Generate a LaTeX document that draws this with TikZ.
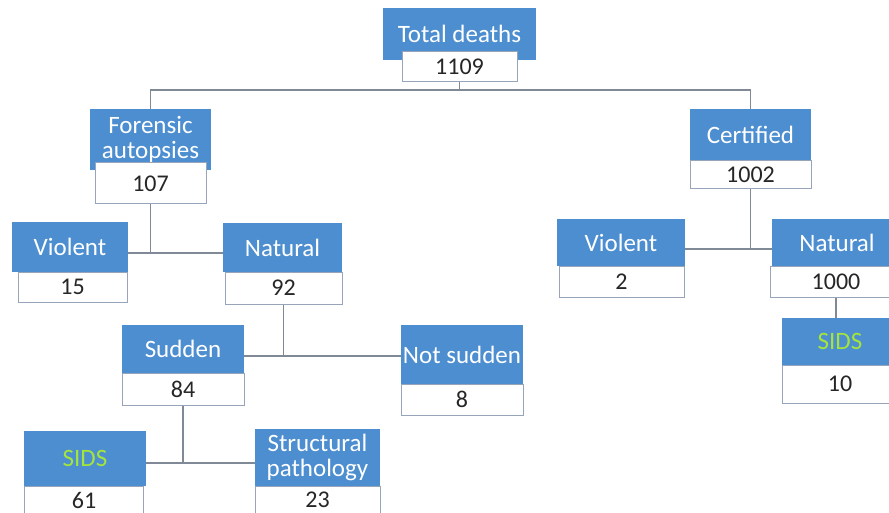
\documentclass[tikz,border=0pt]{standalone}
\usepackage{fontspec}
\setmainfont{Carlito}

\definecolor{headblue}{RGB}{76,142,208}
\definecolor{valline}{RGB}{150,165,185}
\definecolor{linkgray}{RGB}{128,138,150}
\definecolor{sidsgreen}{RGB}{165,228,60}
\definecolor{numgray}{RGB}{38,38,38}

\begin{document}
\begin{tikzpicture}
	[x=1pt,y=-1pt,
	 head/.style={fill=headblue,text=white,inner sep=0pt,align=center,
	  font=\fontsize{25}{25}\selectfont},
	 val/.style={fill=white,draw=valline,line width=1pt,text=numgray,inner sep=0pt,
	  font=\fontsize{24}{24}\selectfont},
	 conn/.style={draw=linkgray,line width=1.2pt}]

	\useasboundingbox (0,0) rectangle (889,513);
	\clip (0,0) rectangle (889,513);

	% top
	\node[head,minimum width=153,minimum height=52] (tot) at (459.5,34) {Total deaths};
	\node[val,minimum width=115,minimum height=30] (totn) at (459.5,67) {1109};

	% left branch
	\node[head,minimum width=121,minimum height=61] (fa) at (150.5,139.5) {Forensic\\autopsies};
	\node[val,minimum width=111,minimum height=41] (fan) at (150.5,183.5) {107};

	\node[head,minimum width=116,minimum height=50] (violL) at (70,247) {Violent};
	\node[val,minimum width=109,minimum height=30] (violLn) at (72.5,287) {15};

	\node[head,minimum width=119,minimum height=49] (natL) at (282.5,247.5) {Natural};
	\node[val,minimum width=117,minimum height=32] (natLn) at (283.5,288) {92};

	\node[head,minimum width=122,minimum height=48] (sud) at (183,349) {Sudden};
	\node[val,minimum width=122,minimum height=32] (sudn) at (183,389) {84};

	\node[head,minimum width=122,minimum height=59] (nots) at (462,354.5) {Not sudden};
	\node[val,minimum width=122,minimum height=31] (notsn) at (462,399.5) {8};

	\node[head,minimum width=122,minimum height=55,text=sidsgreen] (sidsL) at (85,458.5) {SIDS};
	\node[val,minimum width=119,minimum height=28] (sidsLn) at (84,500) {61};

	\node[head,minimum width=125,minimum height=57] (str) at (317.5,457.5) {Structural\\pathology};
	\node[val,minimum width=125,minimum height=28] (strn) at (317.5,500) {23};

	% right branch
	\node[head,minimum width=121,minimum height=52] (cert) at (750.5,135) {Certified};
	\node[val,minimum width=121,minimum height=28] (certn) at (750.5,175) {1002};

	\node[head,minimum width=128,minimum height=47] (violR) at (621,242.5) {Violent};
	\node[val,minimum width=125,minimum height=31] (violRn) at (621.5,281.5) {2};

	\node[head,minimum width=130,minimum height=47] (natR) at (837,242.5) {Natural};
	\node[val,minimum width=132,minimum height=31] (natRn) at (836,281.5) {1000};

	\node[head,minimum width=116,minimum height=47,text=sidsgreen] (sidsR) at (840,341.5) {SIDS};
	\node[val,minimum width=116,minimum height=38] (sidsRn) at (840,384) {10};

	% links
	\coordinate (j1) at (459.5,90);
	\coordinate (j2) at (150.5,253);
	\coordinate (j3) at (750.5,249);
	\coordinate (j4) at (283.5,356);
	\coordinate (j5) at (183,463);

	\draw[conn] (totn.south) -- (j1);
	\draw[conn] (fa.north) |- (j1) -| (cert.north);

	\draw[conn] (fan.south) -- (j2);
	\draw[conn] (violL.east |- j2) -- (natL.west |- j2);

	\draw[conn] (certn.south) -- (j3);
	\draw[conn] (violR.east |- j3) -- (natR.west |- j3);

	\draw[conn] (natLn.south) -- (j4);
	\draw[conn] (sud.east |- j4) -- (nots.west |- j4);

	\draw[conn] (sudn.south) -- (j5);
	\draw[conn] (sidsL.east |- j5) -- (str.west |- j5);

	\draw[conn] (natRn.south) -- (natRn.south |- sidsR.north);

\end{tikzpicture}
\end{document}
